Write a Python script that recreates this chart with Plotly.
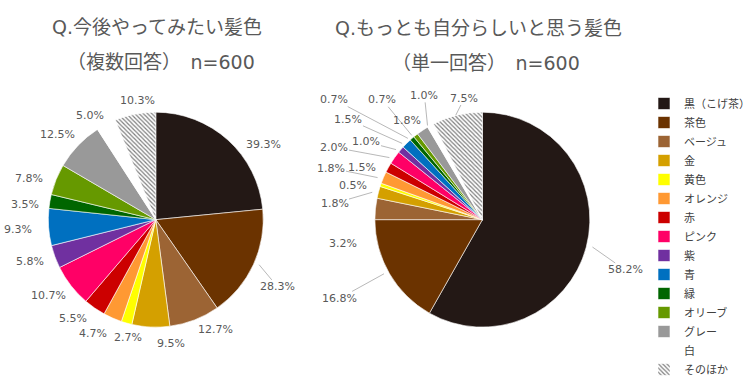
import math
import plotly.graph_objects as go

labels = ["黒（こげ茶）", "茶色", "ベージュ", "金", "黄色", "オレンジ", "赤", "ピンク",
          "紫", "青", "緑", "オリーブ", "グレー", "白", "そのほか"]
colors = ["#231815", "#6B3300", "#9C6434", "#D4A000", "#FFFF00", "#FF9933", "#CC0000",
          "#FF0066", "#7030A0", "#0070C0", "#006600", "#669900", "#999999", "#FFFFFF", "#FFFFFF"]
want_values = [39.3, 28.3, 12.7, 9.5, 2.7, 4.7, 5.5, 10.7, 5.8, 9.3, 3.5, 7.8, 12.5, 5.0, 10.3]
self_values = [58.2, 16.8, 3.2, 1.8, 0.5, 1.8, 1.5, 2.0, 1.0, 1.5, 0.7, 0.7, 1.8, 1.0, 7.5]

title_left = ["Q.今後やってみたい髪色", "（複数回答）　n=600"]
title_right = ["Q.もっとも自分らしいと思う髪色", "（単一回答）　n=600"]

# ---- layout (pixels) ----
W, H = 755, 384
R = 114
left_center = (156, 233)
right_center = (483, 233)
# label text centres (layout only), in slice order
left_label_xy = [(264, 153), (278, 303), (216, 349), (171, 363), (128, 357), (93, 353),
                 (73, 337), (49, 313), (30, 277), (18, 243), (25, 217), (29, 189),
                 (58, 143), (90, 123), (138, 107)]
left_leader = [False, True] + [False] * 13
right_label_xy = [(626, 285), (340, 315), (343, 256), (335, 215), (353, 197), (332, 179),
                  (363, 178), (335, 157), (367, 151), (349, 128), (335, 108), (383, 108),
                  (408, 128), (425, 103), (465, 105)]
right_leader = [True, True, False, True, False, True, False, True, True, True, True, True,
                False, True, True]
title_xy = {"left": [(157, 29), (161, 66)], "right": [(479, 30), (487, 67)]}

shapes = [""] * 14 + ["\\"]
FONT = "DejaVu Sans, Noto Sans CJK JP, sans-serif"
JFONT = "Noto Sans CJK JP, sans-serif"
GREY = "#595959"


def px_to_paper(x, y):
    return x / W, 1 - y / H


def domain_for(center):
    cx, cy = center
    x0, y1 = px_to_paper(cx - R, cy - R)
    x1, y0 = px_to_paper(cx + R, cy + R)
    return dict(x=[x0, x1], y=[y0, y1])


def pie(values, center, showlegend):
    return go.Pie(
        labels=labels, values=values, sort=False, direction="clockwise", rotation=0,
        textinfo="none", hoverinfo="label+value",
        marker=dict(colors=colors, line=dict(color="#FFFFFF", width=0.6),
                    pattern=dict(shape=shapes, fgcolor="#7F7F7F", bgcolor="#FFFFFF",
                                 size=3, solidity=0.4)),
        domain=domain_for(center), showlegend=showlegend,
    )


def label_annotations(values, center, label_xy, leader):
    total = sum(values)
    cx, cy = center
    anns = []
    cum = 0.0
    for v, (tx, ty), ld in zip(values, label_xy, leader):
        theta = 2 * math.pi * (cum + v / 2) / total
        cum += v
        ex = cx + R * math.sin(theta)
        ey = cy - R * math.cos(theta)
        px, py = px_to_paper(ex, ey)
        anns.append(dict(
            text=f"{v:.1f}%", x=px, y=py, xref="paper", yref="paper",
            ax=tx - ex, ay=ty - ey, axref="pixel", ayref="pixel",
            showarrow=True, arrowhead=0, arrowwidth=0.8,
            arrowcolor="#A6A6A6" if ld else "rgba(0,0,0,0)", standoff=0,
            font=dict(family=FONT, size=11, color=GREY), borderpad=0,
        ))
    return anns


fig = go.Figure()
fig.add_trace(pie(want_values, left_center, False))
fig.add_trace(pie(self_values, right_center, True))

anns = []
anns += label_annotations(want_values, left_center, left_label_xy, left_leader)
anns += label_annotations(self_values, right_center, right_label_xy, right_leader)
for key, lines in [("left", title_left), ("right", title_right)]:
    for (tx, ty), t in zip(title_xy[key], lines):
        x, y = px_to_paper(tx, ty)
        anns.append(dict(text=t, x=x, y=y, xref="paper", yref="paper",
                         showarrow=False, xanchor="center", yanchor="middle",
                         font=dict(family=FONT, size=19, color=GREY)))

lx, ly = px_to_paper(645, 251)
fig.update_layout(
    width=W, height=H, margin=dict(l=0, r=0, t=0, b=0),
    paper_bgcolor="white", plot_bgcolor="white",
    annotations=anns,
    legend=dict(x=lx, y=ly, xanchor="left", yanchor="middle",
                font=dict(family=JFONT, size=11, color="#404040"),
                itemwidth=30, bgcolor="rgba(0,0,0,0)"),
)
fig.write_html("out.html", config={"displayModeBar": False},
               post_script="document.body.style.margin='0px';")
